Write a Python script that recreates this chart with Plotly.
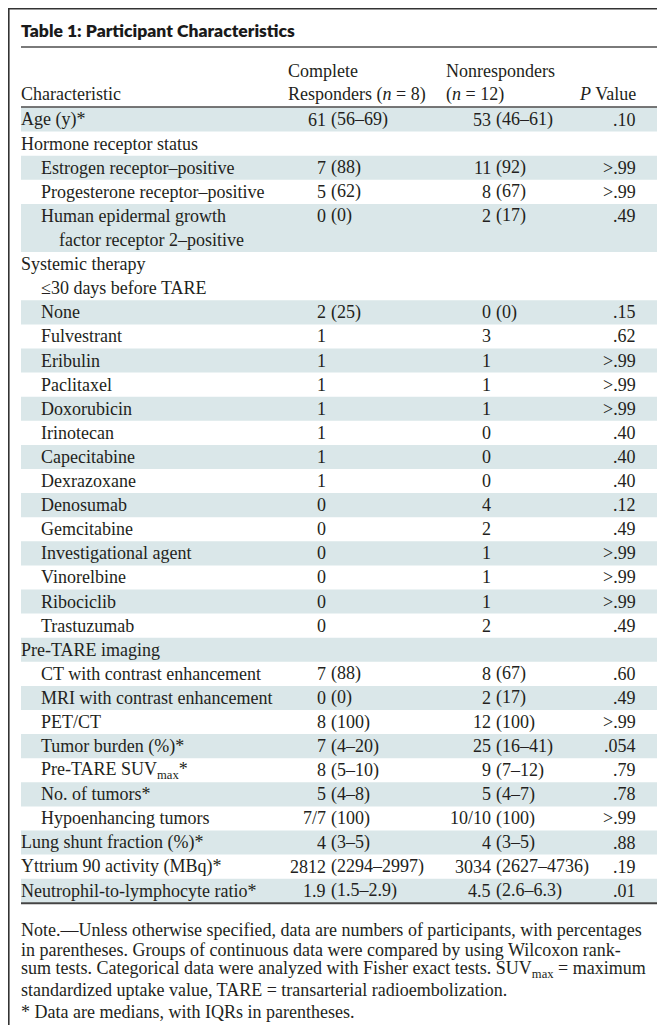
import plotly.graph_objects as go

# ---------------- data ----------------
title = "Table 1: Participant Characteristics"
header_char = "Characteristic"
header_complete = ["Complete", "Responders (<i>n</i> = 8)"]
header_nonresp = ["Nonresponders", "(<i>n</i> = 12)"]
header_p = "<i>P</i> Value"

characteristics = [
    "Age (y)*", "Hormone receptor status", "Estrogen receptor–positive",
    "Progesterone receptor–positive",
    "Human epidermal growth\nfactor receptor 2–positive",
    "Systemic therapy\n≤30 days before TARE",
    "None", "Fulvestrant", "Eribulin", "Paclitaxel", "Doxorubicin", "Irinotecan",
    "Capecitabine", "Dexrazoxane", "Denosumab", "Gemcitabine",
    "Investigational agent", "Vinorelbine", "Ribociclib", "Trastuzumab",
    "Pre-TARE imaging", "CT with contrast enhancement",
    "MRI with contrast enhancement", "PET/CT", "Tumor burden (%)*",
    "Pre-TARE SUV<sub>max</sub>*", "No. of tumors*", "Hypoenhancing tumors",
    "Lung shunt fraction (%)*", "Yttrium 90 activity (MBq)*",
    "Neutrophil-to-lymphocyte ratio*",
]
indent_level = [0, 0, 1, 1, 1, 0, 1, 1, 1, 1, 1, 1, 1, 1, 1, 1, 1, 1, 1, 1,
                0, 1, 1, 1, 1, 1, 1, 1, 0, 0, 0]
complete = [
    "61 (56–69)", "", "7 (88)", "5 (62)", "0 (0)", "", "2 (25)", "1", "1", "1",
    "1", "1", "1", "1", "0", "0", "0", "0", "0", "0", "", "7 (88)", "0 (0)",
    "8 (100)", "7 (4–20)", "8 (5–10)", "5 (4–8)", "7/7 (100)", "4 (3–5)",
    "2812 (2294–2997)", "1.9 (1.5–2.9)",
]
nonresponders = [
    "53 (46–61)", "", "11 (92)", "8 (67)", "2 (17)", "", "0 (0)", "3", "1", "1",
    "1", "0", "0", "0", "4", "2", "1", "1", "1", "2", "", "8 (67)", "2 (17)",
    "12 (100)", "25 (16–41)", "9 (7–12)", "5 (4–7)", "10/10 (100)", "4 (3–5)",
    "3034 (2627–4736)", "4.5 (2.6–6.3)",
]
p_values = [
    ".10", "", ">.99", ">.99", ".49", "", ".15", ".62", ">.99", ">.99", ">.99",
    ".40", ".40", ".40", ".12", ".49", ">.99", ">.99", ">.99", ".49", "", ".60",
    ".49", ">.99", ".054", ".79", ".78", ">.99", ".88", ".19", ".01",
]
notes = [
    "Note.—Unless otherwise specified, data are numbers of participants, with percentages",
    "in parentheses. Groups of continuous data were compared by using Wilcoxon rank-",
    "sum tests. Categorical data were analyzed with Fisher exact tests. SUV<sub>max</sub> = maximum",
    "standardized uptake value, TARE = transarterial radioembolization.",
]
footnote = "* Data are medians, with IQRs in parentheses."

# ---------------- layout constants ----------------
W, H = 665, 1025
LEFT, RIGHT = 13, 651
INDENT = [13, 33, 51]
X_COMPLETE = 318      # right edge of first token
X_NONRESP = 483
X_P = 628
X_HDR_COMPLETE = 280
X_HDR_NONRESP = 438
ROW_TOP = 99.5
ROW_H = 24.1
SHADE = "#dae7e9"
TXT = "#231f20"
SERIF = "Liberation Serif"
FS = 18

fig = go.Figure()
shapes = []
ann = []


def esc(s):
    return s.replace(">", "&gt;")


def text(x, y, s, anchor="left", size=FS, family=SERIF, color=TXT, weight="normal"):
    ann.append(dict(x=x, y=y, xref="x", yref="y", text=s, showarrow=False,
                    xanchor=anchor, yanchor="middle", align=anchor,
                    borderpad=0, borderwidth=0,
                    font=dict(family=family, size=size, color=color, weight=weight)))


def split_value(x_right, y, s):
    if not s:
        return
    parts = s.split(" ", 1)
    text(x_right, y, esc(parts[0]), anchor="right")
    if len(parts) > 1:
        text(x_right + 5, y, esc(parts[1]), anchor="left")


# outer frame
shapes.append(dict(type="rect", x0=0.8, y0=0.8, x1=662.5, y1=1022.8,
                   line=dict(color="#333333", width=1.6)))

# title + rule
text(INDENT[0], 22, title, size=17.5, family="Lato", color="#1a1a1a", weight=800)
shapes.append(dict(type="line", x0=LEFT, x1=RIGHT, y0=39, y1=39,
                   line=dict(color="#7a7a7a", width=2)))

# header
text(INDENT[0], 86, header_char)
text(X_HDR_COMPLETE, 63, header_complete[0])
text(X_HDR_COMPLETE, 86, header_complete[1])
text(X_HDR_NONRESP, 63, header_nonresp[0])
text(X_HDR_NONRESP, 86, header_nonresp[1])
text(X_P, 86, header_p, anchor="right")
shapes.append(dict(type="line", x0=LEFT, x1=RIGHT, y0=ROW_TOP - 0.5,
                   y1=ROW_TOP - 0.5, line=dict(color="#4a4a4a", width=1.6)))

# body rows
row = 0
for i, label in enumerate(characteristics):
    lines = label.split("\n")
    n = len(lines)
    top = ROW_TOP + row * ROW_H
    if i % 2 == 0:
        shapes.append(dict(type="rect", x0=LEFT, x1=RIGHT, y0=top,
                           y1=top + n * ROW_H, fillcolor=SHADE,
                           line=dict(width=0), layer="below"))
    for k, ln in enumerate(lines):
        yk = top + (k + 0.5) * ROW_H
        text(INDENT[min(indent_level[i] + (1 if k else 0), 2)], yk, ln)
    y0 = top + 0.5 * ROW_H
    split_value(X_COMPLETE, y0, complete[i])
    split_value(X_NONRESP, y0, nonresponders[i])
    if p_values[i]:
        text(X_P, y0, esc(p_values[i]), anchor="right")
    row += n

bottom = ROW_TOP + row * ROW_H
shapes.append(dict(type="line", x0=LEFT, x1=RIGHT, y0=bottom + 0.5,
                   y1=bottom + 0.5, line=dict(color="#444444", width=2)))

# notes
NOTE_Y0 = bottom + 27
NOTE_DY = 20
for j, ln in enumerate(notes):
    text(INDENT[0], NOTE_Y0 + j * NOTE_DY, ln)
text(INDENT[0], NOTE_Y0 + len(notes) * NOTE_DY + 2, footnote)

fig.update_layout(
    width=W, height=H, margin=dict(l=0, r=0, t=0, b=0),
    paper_bgcolor="white", plot_bgcolor="white",
    xaxis=dict(range=[0, W], visible=False, fixedrange=True),
    yaxis=dict(range=[H, 0], visible=False, fixedrange=True),
    shapes=shapes, annotations=ann, showlegend=False,
)
fig.write_html("out.html")
